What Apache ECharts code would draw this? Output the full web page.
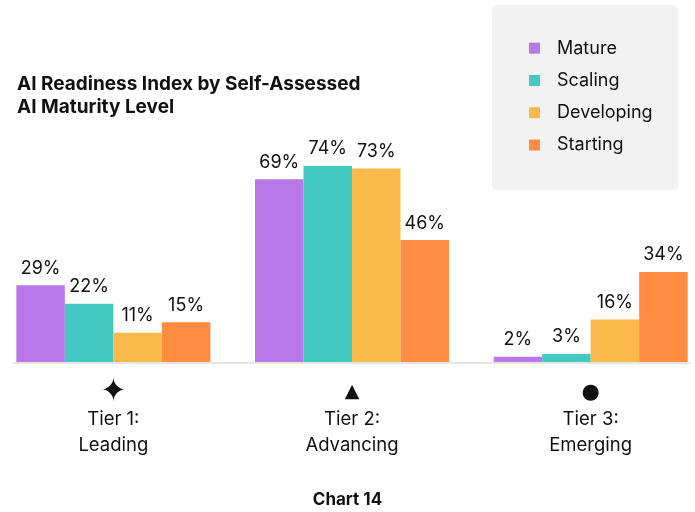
<!DOCTYPE html>
<html>
<head>
<meta charset="utf-8">
<script src="https://cdn.jsdelivr.net/npm/echarts@6/dist/echarts.min.js"></script>
<style>
  html, body { margin: 0; padding: 0; background: #ffffff; }
  #chart { width: 695px; height: 512px; }
</style>
</head>
<body>
<div id="chart"></div>
<script>
// Readiness tiers and their marker glyphs
const tiers = ['Tier 1:\nLeading', 'Tier 2:\nAdvancing', 'Tier 3:\nEmerging'];
const tierIcons = ['star', 'tri', 'dot'];
const iconGlyphs = { star: '✦', tri: '▲', dot: '●' };

// Share of organisations (%) per self-assessed maturity level
const seriesNames = ['Mature', 'Scaling', 'Developing', 'Starting'];
const mature = [29, 69, 2];
const scaling = [22, 74, 3];
const developing = [11, 73, 16];
const starting = [15, 46, 34];

const colors = ['#B878E8', '#43C9C2', '#FBB84B', '#FF8C40'];
const FONT = 'Inter, "Noto Sans", sans-serif';
const ICON_FONT = '"DejaVu Sans", sans-serif';

const seriesValues = [mature, scaling, developing, starting];

const chart = echarts.init(document.getElementById('chart'), null, { renderer: 'canvas' });

chart.setOption({
  animation: false,
  backgroundColor: '#ffffff',
  title: [
    {
      text: 'AI Readiness Index by Self-Assessed\nAI Maturity Level',
      left: 12,
      top: 68,
      textStyle: { fontFamily: FONT, fontWeight: 'bold', fontSize: 19, lineHeight: 23, color: '#111111' }
    },
    {
      text: 'Chart 14',
      left: 'center',
      top: 486,
      textStyle: { fontFamily: FONT, fontWeight: 'bold', fontSize: 17, color: '#111111' }
    }
  ],
  legend: {
    orient: 'vertical',
    left: 492,
    top: 5,
    backgroundColor: '#F2F2F2',
    borderRadius: 6,
    padding: [32, 26, 34, 37],
    itemWidth: 11,
    itemHeight: 11,
    itemGap: 10,
    icon: 'rect',
    textStyle: { fontFamily: FONT, fontSize: 18, lineHeight: 22.3, color: '#111111', padding: [0, 0, 0, 12] },
    data: seriesNames
  },
  // The band layout runs slightly past the canvas edges so the outer groups sit near the borders
  grid: { left: -6, width: 716, top: 97, bottom: 150, containLabel: false, outerBoundsMode: 'none' },
  xAxis: {
    type: 'category',
    data: tiers,
    axisLine: { show: false },
    axisTick: { show: false },
    axisLabel: {
      margin: 17,
      interval: 0,
      formatter: (v, i) => {
        const key = tierIcons[i];
        return '{' + key + '|' + iconGlyphs[key] + '}\n{txt|' + v.split('\n').join('}\n{txt|') + '}';
      },
      rich: {
        star: { fontFamily: ICON_FONT, fontSize: 32, lineHeight: 27, color: '#111111' },
        tri: { fontFamily: ICON_FONT, fontSize: 19, lineHeight: 27, color: '#111111' },
        dot: { fontFamily: ICON_FONT, fontSize: 21, lineHeight: 27, color: '#111111' },
        txt: { fontFamily: FONT, fontSize: 18.5, lineHeight: 26, color: '#111111' }
      }
    }
  },
  yAxis: {
    type: 'value',
    min: 0,
    max: 100,
    show: false,
    splitLine: { show: false }
  },
  graphic: [
    {
      type: 'rect',
      shape: { x: 13, y: 362, width: 678, height: 2 },
      style: { fill: '#E6E6E6' },
      z: 0
    }
  ],
  series: seriesNames.map((name, k) => ({
    name,
    type: 'bar',
    data: seriesValues[k],
    barWidth: 48.5,
    barGap: 0,
    itemStyle: { color: colors[k] },
    z: 2,
    label: {
      show: true,
      position: 'top',
      distance: 8,
      formatter: p => p.value + '%',
      fontFamily: FONT,
      fontSize: 18,
      color: '#111111'
    }
  }))
});
</script>
</body>
</html>
